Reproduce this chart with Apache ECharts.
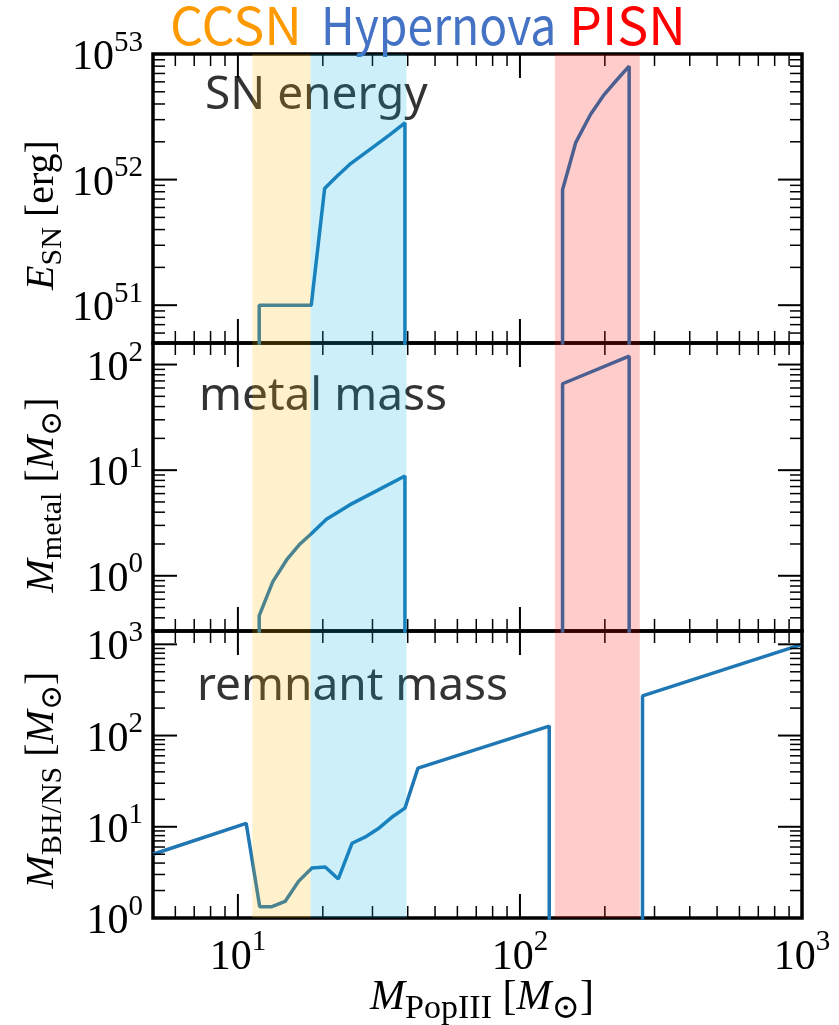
<!DOCTYPE html>
<html>
<head>
<meta charset="utf-8">
<script src="https://cdn.jsdelivr.net/npm/echarts@6/dist/echarts.min.js"></script>
<style>
  html, body { margin: 0; padding: 0; background: #ffffff; }
  #chart { width: 839px; height: 1025px; }
  #msg { position: absolute; left: 300px; top: 430px; font: 13px monospace; color: #c00; white-space: pre; }
</style>
</head>
<body>
<div id="chart"></div>
<div id="msg"></div>
<script>
// ---- Pop III supernova properties vs. progenitor mass [Msun] ----

// Explosion energy E_SN [erg]: core-collapse / hypernova branch
const energyMassCC  = [11.9, 11.9, 18.2, 20.3, 22.4, 24.9, 31.0, 34.6, 39.1, 39.1];
const energyValueCC = [1e48, 1e51, 1e51, 8.5e51, 1.06e52, 1.32e52, 1.90e52, 2.28e52, 2.83e52, 1e48];
// Explosion energy: pair-instability branch
const energyMassPI  = [141.6, 141.6, 157.8, 177.9, 198.9, 220, 243.9, 243.9];
const energyValuePI = [1e48, 8.3e51, 1.98e52, 3.30e52, 4.75e52, 6.18e52, 8.0e52, 1e48];

// Ejected metal mass [Msun]
const metalMassCC  = [11.9, 11.9, 13.3, 14.9, 16.6, 18.2, 20.6, 24.9, 31.0, 39.1, 39.1];
const metalValueCC = [0.01, 0.42, 0.88, 1.42, 2.0, 2.5, 3.43, 4.69, 6.36, 8.8, 0.01];
const metalMassPI  = [141.6, 141.6, 243.9, 243.9];
const metalValuePI = [0.01, 65.8, 120, 0.01];

// Remnant (BH / NS) mass [Msun]
const remnantMass  = [5, 10.7, 11.95, 13.2, 14.7, 16.4, 18.3, 20.4, 22.7, 25.4, 28.2, 31.4, 35.1, 39.1, 43.5, 127, 127, 272, 272, 1000];
const remnantValue = [5, 10.9, 1.33, 1.33, 1.52, 2.52, 3.54, 3.63, 2.68, 6.6, 7.69, 9.5, 12.7, 16.0, 44.0, 127, 0.01, 0.01, 272, 1000];

// Explosion-type mass ranges [Msun]
const bandCCSN = [11.25, 18.1];
const bandHN   = [18.1, 39.6];
const bandPISN = [133, 266];

// Axis ranges and tick values
const xRange = [5, 1000];
const xMajor = [10, 100, 1000];
const xMinor = [6, 7, 8, 9, 20, 30, 40, 50, 60, 70, 80, 90, 200, 300, 400, 500, 600, 700, 800, 900];

const energyRange = [5e50, 1e53];
const energyMajor = [1e51, 1e52, 1e53];
const energyMinor = [6e50, 7e50, 8e50, 9e50, 2e51, 3e51, 4e51, 5e51, 6e51, 7e51, 8e51, 9e51,
                     2e52, 3e52, 4e52, 5e52, 6e52, 7e52, 8e52, 9e52];

const metalRange = [0.3, 160];
const metalMajor = [1, 10, 100];
const metalMinor = [0.4, 0.5, 0.6, 0.7, 0.8, 0.9, 2, 3, 4, 5, 6, 7, 8, 9, 20, 30, 40, 50, 60, 70, 80, 90];

const remnantRange = [1, 1400];
const remnantMajor = [1, 10, 100, 1000];
const remnantMinor = [2, 3, 4, 5, 6, 7, 8, 9, 20, 30, 40, 50, 60, 70, 80, 90, 200, 300, 400, 500, 600, 700, 800, 900];

// ---- styling ----
const SERIF = '"Liberation Serif", "DejaVu Serif", serif';
const LINE_COLOR = '#1f77b4';
const BAND_COLORS = ['rgba(255,185,0,0.2)', 'rgba(0,176,230,0.2)', 'rgba(255,0,0,0.2)'];
const panels = [
  { top: 54,  height: 289, range: energyRange,  major: energyMajor,  minor: energyMinor },
  { top: 343, height: 288, range: metalRange,   major: metalMajor,   minor: metalMinor },
  { top: 631, height: 287, range: remnantRange, major: remnantMajor, minor: remnantMinor }
];

const powerLabel = v => {
  const e = Math.log10(v), r = Math.round(e);
  return Math.abs(e - r) < 1e-6 ? '{b|10}{s|' + r + '}' : '';
};
const labelRich = {
  b: { fontFamily: SERIF, fontSize: 42, color: '#000', padding: [8, 0, 0, 0] },
  s: { fontFamily: SERIF, fontSize: 29, color: '#000', padding: [0, 0, 22, 0] }
};
const yTitleRich = {
  i:  { fontFamily: SERIF, fontStyle: 'italic', fontSize: 40, color: '#000' },
  n:  { fontFamily: SERIF, fontSize: 40, color: '#000' },
  sb: { fontFamily: SERIF, fontSize: 30, color: '#000', padding: [22, 0, 0, 0] }
};
const xTitleRich = {
  i:  { fontFamily: SERIF, fontStyle: 'italic', fontSize: 42, color: '#000' },
  n:  { fontFamily: SERIF, fontSize: 42, color: '#000' },
  sb: { fontFamily: SERIF, fontSize: 34, color: '#000', padding: [22, 0, 0, 0] }
};

// translucent explosion-type bands laid over the whole panel
function bandSeries(gi) {
  const p = panels[gi];
  return {
    type: 'custom', xAxisIndex: gi, yAxisIndex: gi, z: 10, silent: true, clip: false,
    data: [bandCCSN, bandHN, bandPISN],
    renderItem(params, api) {
      const cs = params.coordSys;
      const x0 = api.coord([api.value(0), p.major[0]])[0];
      const x1 = api.coord([api.value(1), p.major[0]])[0];
      return {
        type: 'rect',
        shape: { x: x0, y: cs.y, width: x1 - x0, height: cs.height },
        style: { fill: BAND_COLORS[params.dataIndex] }
      };
    }
  };
}

function lineSeries(gi, xs, ys) {
  return {
    type: 'line', xAxisIndex: gi, yAxisIndex: gi, z: 2,
    data: xs.map((x, i) => [x, ys[i]]), symbol: 'none', clip: true,
    lineStyle: { color: LINE_COLOR, width: 3.5 }
  };
}

const textElements = [
  // explosion-type header
  { type: 'text', x: 170, y: 25, style: { text: 'CCSN', font: '52px "Noto Sans CJK JP"', fill: '#ff9900', verticalAlign: 'middle' } },
  { type: 'text', x: 321, y: 25, scaleX: 0.89, style: { text: 'Hypernova', font: '52px "Noto Sans CJK JP"', fill: '#4472c4', verticalAlign: 'middle' } },
  { type: 'text', x: 569, y: 25, style: { text: 'PISN', font: '52px "Noto Sans CJK JP"', fill: '#ff0000', verticalAlign: 'middle' } },
  // panel captions
  { type: 'text', x: 205, y: 96,  z: 1, style: { text: 'SN energy',    font: '46px "Noto Sans"', fill: '#333333', verticalAlign: 'middle' } },
  { type: 'text', x: 199, y: 397, z: 1, style: { text: 'metal mass',   font: '46px "Noto Sans"', fill: '#333333', verticalAlign: 'middle' } },
  { type: 'text', x: 197, y: 687, z: 1, style: { text: 'remnant mass', font: '46px "Noto Sans"', fill: '#333333', verticalAlign: 'middle' } },
  // axis titles
  { type: 'text', x: 42, y: 215, rotation: Math.PI / 2,
    style: { text: '{i|E}{sb|SN}{n| [erg]}', rich: yTitleRich, align: 'center', verticalAlign: 'middle' } },
  { type: 'text', x: 42, y: 495, rotation: Math.PI / 2,
    style: { text: '{i|M}{sb|metal}{n| [}{i|M}{sb|⊙}{n|]}', rich: yTitleRich, align: 'center', verticalAlign: 'middle' } },
  { type: 'text', x: 42, y: 780, rotation: Math.PI / 2,
    style: { text: '{i|M}{sb|BH/NS}{n| [}{i|M}{sb|⊙}{n|]}', rich: yTitleRich, align: 'center', verticalAlign: 'middle' } },
  { type: 'text', x: 482, y: 998,
    style: { text: '{i|M}{sb|PopIII}{n| [}{i|M}{sb|⊙}{n|]}', rich: xTitleRich, align: 'center', verticalAlign: 'middle' } }
];

const chart = echarts.init(document.getElementById('chart'));

chart.setOption({
  animation: false,
  grid: panels.map(p => ({
    left: 153, width: 649, top: p.top, height: p.height,
    show: true, borderColor: '#000', borderWidth: 3.5, backgroundColor: 'transparent'
  })),
  xAxis: panels.map((p, i) => ({
    type: 'log', logBase: 10, gridIndex: i, min: xRange[0], max: xRange[1],
    axisLine: { show: false }, axisTick: { show: false }, splitLine: { show: false },
    axisLabel: {
      show: i === 2, formatter: powerLabel, rich: labelRich, margin: 10,
      showMinLabel: true, showMaxLabel: true, hideOverlap: false
    }
  })),
  yAxis: panels.map((p, i) => ({
    type: 'log', logBase: 10, gridIndex: i, min: p.range[0], max: p.range[1],
    axisLine: { show: false }, axisTick: { show: false }, splitLine: { show: false },
    axisLabel: {
      formatter: powerLabel, rich: labelRich, margin: 10,
      showMinLabel: true, showMaxLabel: true, hideOverlap: false
    }
  })),
  graphic: { elements: textElements },
  series: [
    bandSeries(0), bandSeries(1), bandSeries(2),
    lineSeries(0, energyMassCC, energyValueCC),
    lineSeries(0, energyMassPI, energyValuePI),
    lineSeries(1, metalMassCC, metalValueCC),
    lineSeries(1, metalMassPI, metalValuePI),
    lineSeries(2, remnantMass, remnantValue)
  ]
});

// Inward tick marks on all four sides of every panel, placed through the
// panel's own log axes (convertToPixel) once the layout is known.
const problems = [];
function axisPx(kind, gi, v) {
  let r;
  try {
    r = chart.convertToPixel(kind === 'x' ? { xAxisIndex: gi } : { yAxisIndex: gi }, v);
  } catch (e) { problems.push('convert ' + e.message); }
  if (typeof r !== 'number' || !isFinite(r)) {
    const axis = chart.getModel().getComponent(kind === 'x' ? 'xAxis' : 'yAxis', gi).axis;
    r = axis.toGlobalCoord(axis.dataToCoord(v));
  }
  return r;
}

const tickElements = [];
try {
  panels.forEach((p, gi) => {
    const left = axisPx('x', gi, xRange[0]), right = axisPx('x', gi, xRange[1]);
    const bottom = axisPx('y', gi, p.range[0]), top = axisPx('y', gi, p.range[1]);
    const add = (x, y, w, h) => tickElements.push({
      type: 'rect', z: 3, silent: true, shape: { x, y, width: w, height: h }, style: { fill: '#000' }
    });
    const xTicks = (vals, len, w) => vals.forEach(v => {
      const px = axisPx('x', gi, v);
      add(px - w / 2, bottom - len, w, len);
      add(px - w / 2, top, w, len);
    });
    const yTicks = (vals, len, w) => vals.forEach(v => {
      const py = axisPx('y', gi, v);
      add(left, py - w / 2, len, w);
      add(right - len, py - w / 2, len, w);
    });
    xTicks(xMinor, 12, 1.5);
    xTicks(xMajor, 24, 2);
    yTicks(p.minor, 12, 1.5);
    yTicks(p.major, 24, 2);
  });
  chart.setOption({ graphic: { elements: textElements.concat(tickElements) } });
} catch (e) {
  problems.push('ticks ' + e.message);
}
if (problems.length || !tickElements.length) {
  document.getElementById('msg').textContent = problems.join('\n') + '\nn=' + tickElements.length;
}
</script>
</body>
</html>
